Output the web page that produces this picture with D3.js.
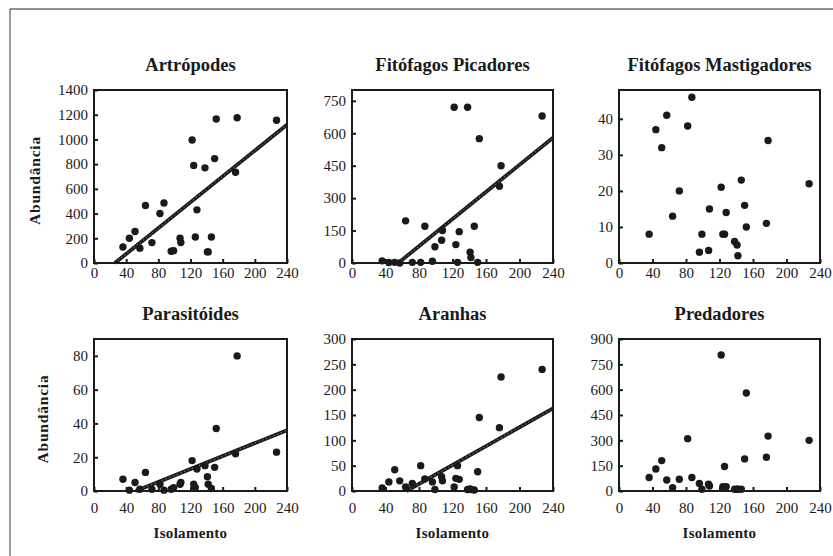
<!DOCTYPE html>
<html>
<head>
<meta charset="utf-8">
<script src="https://cdn.jsdelivr.net/npm/d3@7"></script>
<style>
  html, body { margin: 0; padding: 0; background: #fff; }
  svg { display: block; }
  text { font-family: "Liberation Serif", "Times New Roman", serif; fill: #1a1a1a; }
</style>
</head>
<body>
<svg id="chart" width="833" height="556"></svg>
<script>
// Isolamento of each sampled site (shared x for every panel)
const isolamento = [36, 44, 51, 57, 64, 72, 82, 87, 96, 99, 107, 108, 122, 124, 126, 128, 138, 141, 142, 146, 150, 152, 176, 178, 227];

// Abundância per group, same site order as isolamento
const artropodes   = [130, 200, 255, 120, 465, 165, 400, 485, 95, 100, 200, 165, 995, 790, 210, 430, 770, 90, 90, 210, 845, 1165, 735, 1175, 1155];
const picadores    = [10, 2, 3, 0, 195, 3, 3, 170, 8, 75, 105, 150, 720, 85, 3, 145, 720, 50, 25, 170, 3, 575, 355, 450, 680];
const mastigadores = [8, 37, 32, 41, 13, 20, 38, 46, 3, 8, 3.5, 15, 21, 8, 8, 14, 6, 5, 2, 23, 16, 10, 11, 34, 22];
const parasitoides = [7, 0.5, 5, 1, 11, 1, 4, 0.5, 1, 2, 4, 5, 18, 4, 2, 13, 15, 8.5, 4, 1.5, 14, 37, 22, 80, 23];
const aranhas      = [6, 18, 42, 20, 8, 15, 50, 24, 18, 3, 28, 20, 8, 25, 50, 23, 3, 4, 3, 2, 38, 145, 125, 225, 240];
const predadores   = [80, 130, 180, 65, 20, 70, 310, 80, 45, 10, 40, 30, 805, 25, 145, 25, 10, 10, 10, 10, 190, 580, 200, 325, 300];

// Panel titles, in reading order
const titles = ["Artrópodes", "Fitófagos Picadores", "Fitófagos Mastigadores", "Parasitóides", "Aranhas", "Predadores"];

// Tick labels
const xTicks = [0, 40, 80, 120, 160, 200, 240];
const yTicksArtropodes   = [0, 200, 400, 600, 800, 1000, 1200, 1400];
const yTicksPicadores    = [0, 150, 300, 450, 600, 750];
const yTicksMastigadores = [0, 10, 20, 30, 40];
const yTicksParasitoides = [0, 20, 40, 60, 80];
const yTicksAranhas      = [0, 50, 100, 150, 200, 250, 300];
const yTicksPredadores   = [0, 150, 300, 450, 600, 750, 900];

// Upper limit of each y axis
const yMax = [1400, 800, 48, 90, 300, 900];

// Linear trend lines [slope, intercept]; null where no trend is drawn
const trends = [[5.23, -136], [3.135, -173], null, [0.1915, -9.96], [0.931, -60.5], null];

const series = [artropodes, picadores, mastigadores, parasitoides, aranhas, predadores];
const yTicks = [yTicksArtropodes, yTicksPicadores, yTicksMastigadores, yTicksParasitoides, yTicksAranhas, yTicksPredadores];

// ---- layout ----
const svg = d3.select("#chart");
const ink = "#1a1a1a";
const serif = '"Liberation Serif", "Times New Roman", serif';
const cols = [[94, 287], [352, 553], [619, 820]];
const rows = [[90, 263], [339, 491]];
const xLabelPad = [4, 11];

// outer frame
svg.append("line").attr("x1", 10).attr("y1", 9).attr("x2", 10).attr("y2", 556)
  .attr("stroke", "#7a7a7a").attr("stroke-width", 1.5);
svg.append("line").attr("x1", 10).attr("y1", 9).attr("x2", 833).attr("y2", 9)
  .attr("stroke", "#222").attr("stroke-width", 1);

function styleAxis(sel) {
  sel.attr("font-family", serif).attr("font-size", 15);
  sel.select(".domain").remove();
  sel.selectAll("line").attr("stroke", ink).attr("stroke-width", 2);
  sel.selectAll("text").attr("fill", ink).attr("font-family", serif).attr("font-size", 15)
    .style("font-family", serif);
}

series.forEach((vals, i) => {
  const r = Math.floor(i / 3), c = i % 3;
  const [x0, x1] = cols[c];
  const [y0, y1] = rows[r];
  const x = d3.scaleLinear().domain([0, 240]).range([x0, x1]);
  const y = d3.scaleLinear().domain([0, yMax[i]]).range([y1, y0]);
  const g = svg.append("g");

  // y axis
  g.append("g").attr("transform", `translate(${x0},0)`)
    .call(d3.axisLeft(y).tickValues(yTicks[i]).tickSizeInner(-4).tickSizeOuter(0).tickPadding(6)
      .tickFormat(d3.format("d")))
    .call(styleAxis);

  // x axis
  g.append("g").attr("transform", `translate(0,${y1})`)
    .call(d3.axisBottom(x).tickValues(xTicks).tickSizeInner(-4).tickSizeOuter(0).tickPadding(xLabelPad[r]))
    .call(styleAxis);

  // trend line
  const t = trends[i];
  if (t) {
    const [m, b] = t;
    const xs = Math.max(0, -b / m);
    const pts = [[xs, m * xs + b], [240, m * 240 + b]];
    const lg = d3.line().x(d => x(d[0])).y(d => y(d[1]));
    g.append("path").attr("d", lg(pts)).attr("fill", "none")
      .attr("stroke", ink).attr("stroke-width", 3.8);
    g.append("path").attr("d", lg(pts)).attr("fill", "none")
      .attr("stroke", "#a0a0a0").attr("stroke-width", 0.8).attr("stroke-dasharray", "1.5,2.5");
  }

  // points
  g.selectAll("circle.pt").data(vals).join("circle").attr("class", "pt")
    .attr("cx", (d, k) => x(isolamento[k])).attr("cy", d => y(d))
    .attr("r", 3.7).attr("fill", ink);

  // plot frame
  g.append("rect").attr("x", x0).attr("y", y0).attr("width", x1 - x0).attr("height", y1 - y0)
    .attr("fill", "none").attr("stroke", ink).attr("stroke-width", 2);

  // title
  g.append("text").attr("x", (x0 + x1) / 2).attr("y", y0 - 19).attr("text-anchor", "middle")
    .attr("font-family", serif).style("font-size", "18.5px").style("font-weight", "bold").text(titles[i]);

  // axis titles
  if (c === 0) {
    const ty = (y0 + y1) / 2 + 4;
    const tx = r === 0 ? 35 : 43;
    g.append("text").attr("transform", `translate(${tx},${ty}) rotate(-90)`)
      .attr("text-anchor", "middle").attr("dy", "0.35em").attr("font-family", serif)
      .style("font-size", "15.5px").style("font-weight", "bold").style("letter-spacing", "0.8px")
      .text("Abundância");
  }
  if (r === 1) {
    g.append("text").attr("x", (x0 + x1) / 2).attr("y", 538).attr("text-anchor", "middle")
      .attr("font-family", serif)
      .style("font-size", "15px").style("font-weight", "bold").style("letter-spacing", "0.3px")
      .text("Isolamento");
  }
});
</script>
</body>
</html>
